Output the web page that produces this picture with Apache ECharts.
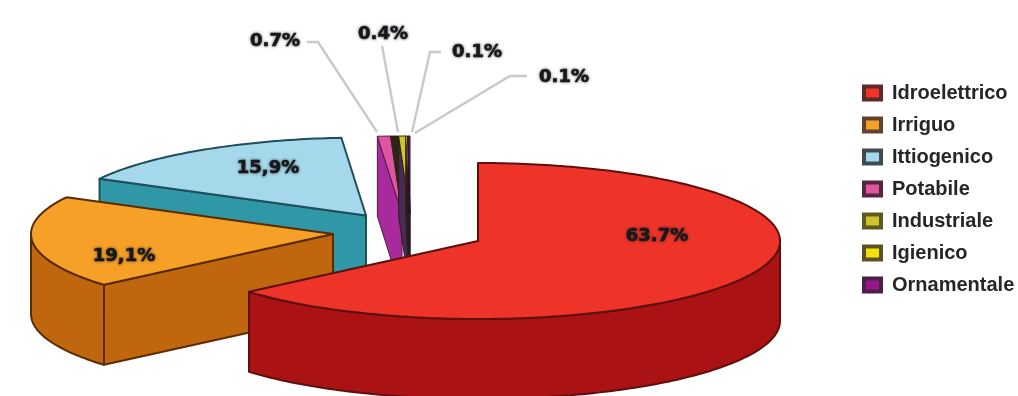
<!DOCTYPE html>
<html><head><meta charset="utf-8">
<style>html,body{margin:0;padding:0;background:#fff}#c{width:1018px;height:396px}</style>
<script src="https://cdn.jsdelivr.net/npm/echarts@6/dist/echarts.min.js"></script>
</head><body><div id="c"></div>
<script>
// --- data ---
const categories = ['Idroelettrico','Irriguo','Ittiogenico','Potabile','Industriale','Igienico','Ornamentale'];
const values = [63.7, 19.1, 15.9, 0.7, 0.4, 0.1, 0.1];
const valueLabels = ['63.7%','19,1%','15,9%','0.7%','0.4%','0.1%','0.1%'];

// --- look ---
const topColors  = ['#ee3428','#f6a027','#a5d8ea','#e0559f','#cfc52a','#f2e20c','#97178a'];
const wallColors = ['#aa1214','#c0660f','#2f97a5','#a92a9d','#4a2a5a','#2a2410','#2c1c48'];
const lineColors = ['#5e1010','#5a2c04','#1f4f5c','#4a1a44','#2a2408','#2a2408','#2a1030'];
const legendBorders = ['#5e2a28','#5f4230','#3e4c52','#55263f','#5c5a20','#5e5020','#4a2048'];
const rx = 302, ry = 78, depth = 80;
const centre = [478, 241];                 // pie centre before explosion
const explode = [[0,0],[-145,-7],[-112,-25.5],[-76,-27],[-68,-27],[-68.5,-27],[-68,-27]];
const drawOrder = [2,3,4,5,6,1,0];         // back to front
const labelPos = [[657,236],[124,256],[268,168],[275,41],[383,34],[477,52],[564,77]];
const leaders = [null,null,null,
  [[307,42],[318,42],[377,132]],
  [[382,46],[398,132]],
  [[441,52],[430,52],[412,132]],
  [[527,76],[510,76],[415,133]]];

const total = values.reduce((a,b)=>a+b,0);
const pt = (c,deg,dy=0)=>{const t=deg*Math.PI/180;return [c[0]+rx*Math.sin(t), c[1]-ry*Math.cos(t)+dy];};
function arc(c,a,b,dy){const n=Math.max(2,Math.ceil(Math.abs(b-a)));const o=[];for(let i=0;i<=n;i++)o.push(pt(c,a+(b-a)*i/n,dy));return o;}
const poly=(points,fill,stroke,lw=2,z2=0)=>({type:'polygon',z2,shape:{points},style:{fill,stroke,lineWidth:lw,lineJoin:'round'}});

function renderSlice(i){return function(params,api){
  const v = api.value(0);
  let before = 0; for(let k=0;k<i;k++) before+=values[k];
  const a = before/total*360, b = (before+v)/total*360;
  const c = [centre[0]+explode[i][0], centre[1]+explode[i][1]];
  const slim = i>=3;
  const lw = slim?1:2;
  const ch = [];
  if(leaders[i]) ch.push({type:'polyline',shape:{points:leaders[i]},style:{fill:null,stroke:'#c9c9c9',lineWidth:2.4}});
  if(i===4){
    const pc=[centre[0]+explode[3][0],centre[1]+explode[3][1]];
    ch.push(poly([pt(pc,a),pt(c,a),c,pc],'#2e2416','#2e2416',1));
  }
  const s = Math.sin(a*Math.PI/180);
  if(s < -1e-6){
    const e=pt(c,a);
    ch.push(poly([e,c,[c[0],c[1]+depth],[e[0],e[1]+depth]],wallColors[i],lineColors[i],lw));
  }
  const w0=Math.max(a,90), w1=Math.min(b,270);
  if(w1>w0) ch.push(poly(arc(c,w0,w1,0).concat(arc(c,w1,w0,depth)),wallColors[i],lineColors[i],lw));
  ch.push(poly([c].concat(arc(c,a,b,0)),topColors[i],lineColors[i],lw));
  ch.push({type:'text',z2:10,x:labelPos[i][0],y:labelPos[i][1],style:{
    text:valueLabels[i],fill:'#18181c',font:'bold 18px "DejaVu Sans"',align:'center',verticalAlign:'middle',
    stroke:'#18181c',lineWidth:0.6,textShadowColor:'rgba(30,30,30,0.6)',textShadowBlur:3}});
  return {type:'group',children:ch};
};}

const series = categories.map((name,i)=>({
  name,type:'custom',coordinateSystem:'none',silent:true,animation:false,
  z:2+drawOrder.indexOf(i),
  itemStyle:{color:topColors[i]},
  data:[[values[i]]],
  renderItem:renderSlice(i)
}));

const chart = echarts.init(document.getElementById('c'),null,{renderer:'canvas'});
chart.setOption({
  animation:false,backgroundColor:'#fff',
  legend:{
    orient:'vertical',left:857,top:78,itemWidth:17,itemHeight:13,itemGap:12,selectedMode:false,
    textStyle:{fontFamily:'"Liberation Sans"',fontWeight:'bold',fontSize:20,color:'#26262a',lineHeight:20,height:20,padding:[0,0,0,6]},
    data:categories.map((name,i)=>({name,icon:'rect',itemStyle:{color:topColors[i],borderColor:legendBorders[i],borderWidth:4}}))
  },
  series
});
</script></body></html>
